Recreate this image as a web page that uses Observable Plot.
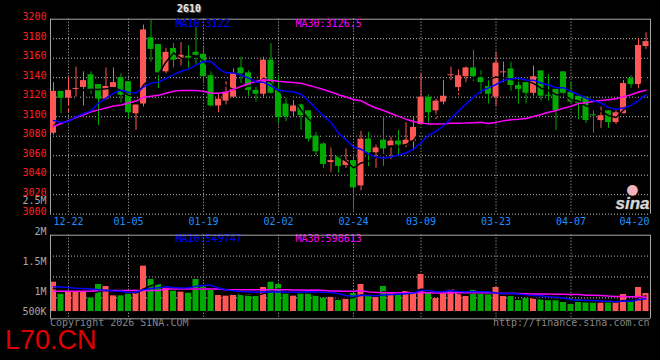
<!DOCTYPE html>
<html><head><meta charset="utf-8">
<script src="https://cdn.jsdelivr.net/npm/d3@7"></script>
<script src="https://cdn.jsdelivr.net/npm/@observablehq/plot@0.6"></script>
<style>
html,body{margin:0;padding:0;background:#000;}
#wrap{position:relative;width:660px;height:360px;background:#000;overflow:hidden;font-family:"DejaVu Sans Mono",monospace;}
#wrap svg{position:absolute;left:0;top:0;}
.t{position:absolute;white-space:pre;font-size:10px;line-height:12px;font-family:"DejaVu Sans Mono",monospace;}
</style></head><body><div id="wrap"></div>
<script>
const title = "2610";
const dates = ["12-18","12-19","12-22","12-23","12-24","12-25","12-26","12-29","12-30","12-31",
"01-05","01-06","01-07","01-08","01-09","01-12","01-13","01-14","01-15","01-16",
"01-19","01-20","01-21","01-22","01-23","01-26","01-27","01-28","01-29","01-30",
"02-02","02-03","02-04","02-05","02-06","02-09","02-10","02-11","02-12","02-13",
"02-24","02-25","02-26","02-27","03-02","03-03","03-04","03-05","03-06","03-09",
"03-10","03-11","03-12","03-13","03-16","03-17","03-18","03-19","03-20","03-23",
"03-24","03-25","03-26","03-27","03-30","03-31","04-01","04-02","04-03","04-07",
"04-08","04-09","04-10","04-13","04-14","04-15","04-16","04-17","04-20","04-21"];
const opens = [3083,3126,3119,3129,3130,3143,3133,3118,3130,3140, 3136,3103,3113,3181,3174,3146,3170,3159,3162,3166,
3164,3142,3111,3116,3120,3150,3145,3127,3123,3158, 3127,3113,3105,3112,3106,3080,3072,3053,3059,3050,
3055,3029,3077,3063,3076,3070,3075,3071,3075,3092, 3120,3106,3115,3143,3130,3141,3150,3141,3131,3120,
3146,3149,3132,3135,3124,3147,3122,3128,3146,3125, 3121,3120,3102,3096,3106,3094,3103,3139,3133,3172];
const highs = [3135,3126,3140,3151,3146,3146,3133,3150,3150,3144, 3136,3112,3194,3199,3174,3170,3175,3176,3173,3192,
3172,3147,3124,3136,3149,3161,3147,3130,3161,3175, 3142,3119,3118,3113,3106,3084,3073,3069,3060,3067,
3061,3085,3084,3071,3100,3079,3086,3094,3099,3144, 3122,3118,3137,3151,3148,3151,3168,3147,3137,3166,
3156,3156,3139,3135,3152,3147,3143,3128,3146,3135, 3121,3120,3106,3110,3106,3106,3137,3142,3180,3186];
const lows = [3081,3103,3104,3120,3111,3123,3091,3117,3129,3114, 3098,3086,3110,3156,3129,3144,3150,3152,3150,3153,
3134,3110,3104,3112,3119,3134,3121,3115,3120,3123, 3093,3095,3100,3086,3074,3060,3047,3043,3042,3047,
3004,3024,3049,3047,3049,3056,3060,3068,3065,3092, 3092,3097,3112,3137,3122,3134,3136,3123,3113,3111,
3135,3126,3113,3113,3121,3116,3116,3086,3120,3114, 3097,3093,3083,3088,3088,3092,3103,3129,3124,3169];
const closes = [3126,3119,3127,3129,3137,3128,3118,3131,3135,3122, 3104,3112,3189,3169,3145,3166,3158,3163,3160,3163,
3141,3111,3118,3125,3144,3144,3127,3123,3158,3124, 3099,3100,3111,3101,3077,3064,3051,3055,3049,3055,
3027,3077,3063,3068,3067,3075,3071,3076,3089,3120, 3104,3116,3121,3143,3142,3150,3141,3135,3123,3155,
3146,3132,3128,3124,3141,3121,3121,3106,3124,3115, 3114,3096,3101,3101,3094,3104,3134,3133,3173,3177];
const volumes = [1154000,956000,1000000,1005000,989000,890000,1116000,1083000,928000,928000,
956000,978000,1419000,1198000,1116000,1055000,1005000,989000,972000,1198000,
1072000,1022000,934000,923000,934000,950000,950000,923000,1066000,1154000,
1116000,956000,923000,956000,956000,923000,890000,909000,851000,873000,
967000,1116000,917000,901000,1083000,984000,950000,1000000,967000,1281000,
984000,884000,967000,1033000,967000,917000,1017000,950000,956000,1066000,
917000,917000,851000,884000,884000,868000,851000,873000,818000,785000,
868000,818000,851000,818000,818000,818000,950000,835000,1066000,967000];
// moving-average values before enough history is visible
const ma5Head = [3090,3100,3110,3118];
const ma10Head = [3096,3094,3095,3100,3103,3106,3114,3119,3124];
const ma30Head = [3090,3093,3096,3099,3102,3105,3107,3109,3111,3112,3114,3116,3120,3121,3122,3124,3126,3127,3127,3127,3126,3124,3124,3125,3128,3131,3134,3136,3138];
const volMa5Head = [1050000,1020000,1010000,1020000];
const volMa10Head = [1080000,1075000,1065000,1055000,1050000,1040000,1030000,1020000,1010000];
const volMa30Head = [1005000,1005000,1005000,1005000,1005000,1005000,1016000,1016000,1016000,1016000,1016000,1016000,1016000,1016000,1016000,1040000,1040000,1040000,1040000,1040000,1040000,1040000,1040000,1030000,1030000,1030000,1030000,1030000,1030000];
const priceTicks = [3000,3020,3040,3060,3080,3100,3120,3140,3160,3180,3200];
const dateTicks = ["12-22","01-05","01-19","02-02","02-24","03-09","03-23","04-07","04-20"];
const gridDates = ["12-22","01-05","01-19","02-02","02-24","03-09","03-23","04-07"];
const priceMaLabels = ["MA10:3122","MA30:3126.5"];
const volMaLabels = ["MA10:549747","MA30:598613"];
const volTickLabels = ["500K","1M","1.5M","2M","2.5M"];
const volTickValues = [1e6,1.5e6,2e6,2.5e6];

const N = dates.length;
const rolling = (vals, n, head) => vals.map((v, i) => i < head.length ? head[i] : d3.mean(vals.slice(i - n + 1, i + 1)));
const ma5 = rolling(closes, 5, ma5Head), ma10 = rolling(closes, 10, ma10Head), ma30 = rolling(closes, 30, ma30Head);
const vma5 = rolling(volumes, 5, volMa5Head), vma10 = rolling(volumes, 10, volMa10Head), vma30 = rolling(volumes, 30, volMa30Head);
const rows = dates.map((d, i) => ({i, date: d, open: opens[i], high: highs[i], low: lows[i], close: closes[i],
  vol: volumes[i], up: closes[i] >= opens[i], doji: Math.abs(closes[i] - opens[i]) < 1,
  ma5: ma5[i], ma10: ma10[i], ma30: ma30[i], vma5: vma5[i], vma10: vma10[i], vma30: vma30[i]}));

const UP = "#ff5656", DOWN = "#00aa00", GRID = "#bdbdbd", FRAME = "#a6a6a6";
const FONT = "DejaVu Sans Mono";
const xDomain = [-0.4, N - 0.4];
const half = 0.4;
const dotted = {stroke: GRID, strokeDasharray: "1,2"};
const gridIdx = gridDates.map(d => dates.indexOf(d));
const innerTicks = dateTicks.slice(0, -1);
const tickIdx = innerTicks.map(d => dates.indexOf(d));
const dateStyle = {lineAnchor: "middle", dy: 7.5, fill: "#1e8fff", fontSize: 10, fontFamily: FONT};

const price = Plot.plot({
  width: 660, height: 230,
  marginLeft: 50, marginRight: 10, marginTop: 18.7, marginBottom: 16.3,
  style: {background: "transparent", overflow: "visible"},
  x: {domain: xDomain, axis: null},
  y: {domain: [3000, 3200], axis: null},
  marks: [
    Plot.ruleY(priceTicks.slice(0, -1), dotted),
    Plot.ruleX(gridIdx, dotted),
    Plot.ruleY([3200], {stroke: FRAME}),
    Plot.ruleX(xDomain, {stroke: FRAME}),
    Plot.ruleX(rows, {filter: d => d.up, x: "i", y1: "low", y2: "high", stroke: UP}),
    Plot.ruleX(rows, {filter: d => !d.up, x: "i", y1: "low", y2: "high", stroke: DOWN}),
    Plot.rect(rows, {filter: d => d.up, x1: d => d.i - half, x2: d => d.i + half, y1: "open", y2: "close", fill: UP}),
    Plot.rect(rows, {filter: d => !d.up, x1: d => d.i - half, x2: d => d.i + half, y1: "open", y2: "close", fill: DOWN}),
    Plot.ruleY(rows, {filter: d => d.doji, x1: d => d.i - half, x2: d => d.i + half, y: "close", stroke: d => d.up ? UP : DOWN}),
    Plot.line(rows, {x: "i", y: "ma5", stroke: "#000"}),
    Plot.line(rows, {x: "i", y: "ma30", stroke: "#ff00ff"}),
    Plot.line(rows, {x: "i", y: "ma10", stroke: "#0000ff"}),
    Plot.text(priceTicks, {y: d => d, text: d => String(d), frameAnchor: "left", textAnchor: "end", dx: -4, dy: -2, fill: "#ff2020", fontSize: 10, fontFamily: FONT}),
    Plot.text(tickIdx, {x: d => d, text: (d, j) => innerTicks[j], frameAnchor: "bottom", ...dateStyle}),
    Plot.text([dateTicks[dateTicks.length - 1]], {frameAnchor: "bottom-right", textAnchor: "end", dx: -1, ...dateStyle}),
    Plot.text([priceMaLabels[0]], {frameAnchor: "top-left", textAnchor: "start", lineAnchor: "middle", dx: 125, dy: 4.8, fill: "#0000ff", fontSize: 10, fontFamily: FONT}),
    Plot.text([priceMaLabels[1]], {frameAnchor: "top-left", textAnchor: "start", lineAnchor: "middle", dx: 245, dy: 4.8, fill: "#ff00ff", fontSize: 10, fontFamily: FONT}),
    Plot.text(["sina"], {frameAnchor: "bottom-right", textAnchor: "end", lineAnchor: "bottom", dx: -1, dy: -5, fill: "#d8d8d8", stroke: "#777", strokeWidth: 0.6, fontSize: 17, fontWeight: "bold", fontStyle: "italic", fontFamily: "Liberation Sans"}),
    Plot.text(["●"], {frameAnchor: "bottom-right", textAnchor: "end", lineAnchor: "bottom", dx: -12, dy: -20, fill: "#f2b3bd", fontSize: 14, fontFamily: "DejaVu Sans"})
  ]
});

// volume panel: value/pixel relation taken from the axis labels (1M at y=291, 60.5 px per 1M)
const volDomain = [548700, 1930600];
const volBase = 669400;
const volGrid = [1, 2, 3].map(k => volDomain[0] + (volDomain[1] - volDomain[0]) * k / 4);
const vol = Plot.plot({
  width: 660, height: 360,
  marginLeft: 50, marginRight: 10, marginTop: 234.7, marginBottom: 41.7,
  style: {background: "transparent", overflow: "visible"},
  x: {domain: xDomain, axis: null},
  y: {domain: volDomain, axis: null},
  marks: [
    Plot.ruleY(volGrid, dotted),
    Plot.ruleX(gridIdx, dotted),
    Plot.rect(rows, {filter: d => d.up, x1: d => d.i - half, x2: d => d.i + half, y1: volBase, y2: "vol", fill: UP}),
    Plot.rect(rows, {filter: d => !d.up, x1: d => d.i - half, x2: d => d.i + half, y1: volBase, y2: "vol", fill: DOWN}),
    Plot.line(rows, {x: "i", y: "vma5", stroke: "#000"}),
    Plot.line(rows, {x: "i", y: "vma30", stroke: "#ff00ff"}),
    Plot.line(rows, {x: "i", y: "vma10", stroke: "#0000ff"}),
    Plot.text([volMaLabels[0]], {frameAnchor: "top-left", textAnchor: "start", lineAnchor: "middle", dx: 125, dy: 3.5, fill: "#0000ff", fontSize: 10, fontFamily: FONT}),
    Plot.text([volMaLabels[1]], {frameAnchor: "top-left", textAnchor: "start", lineAnchor: "middle", dx: 245, dy: 3.5, fill: "#ff00ff", fontSize: 10, fontFamily: FONT}),
    Plot.ruleY(volDomain, {stroke: FRAME}),
    Plot.ruleX(xDomain, {stroke: FRAME}),
    Plot.text([volBase, ...volTickValues], {y: d => d, text: (d, j) => volTickLabels[j], frameAnchor: "left", textAnchor: "end", dx: -4, dy: 0.5, fill: "#a8a8a8", fontSize: 10, fontFamily: FONT})
  ]
});

const wrap = document.getElementById("wrap");
wrap.appendChild(price);
wrap.appendChild(vol);
function addText(txt, css) {
  const el = document.createElement("div");
  el.className = "t";
  el.textContent = txt;
  Object.assign(el.style, css);
  wrap.appendChild(el);
}
addText(title, {left: "177px", top: "3px", color: "#e8e8e8", fontWeight: "bold", textShadow: "1px 1px 0 #555, -1px 0 0 #333"});
addText("Copyright 2026 SINA.COM", {left: "50px", top: "317px", color: "#858585"});
addText("http://finance.sina.com.cn", {left: "493px", top: "317px", color: "#858585"});
addText("L70.CN", {left: "5px", top: "329px", color: "#e00000", fontSize: "27px", lineHeight: "22px", fontFamily: "Liberation Sans, sans-serif"});
</script></body></html>
